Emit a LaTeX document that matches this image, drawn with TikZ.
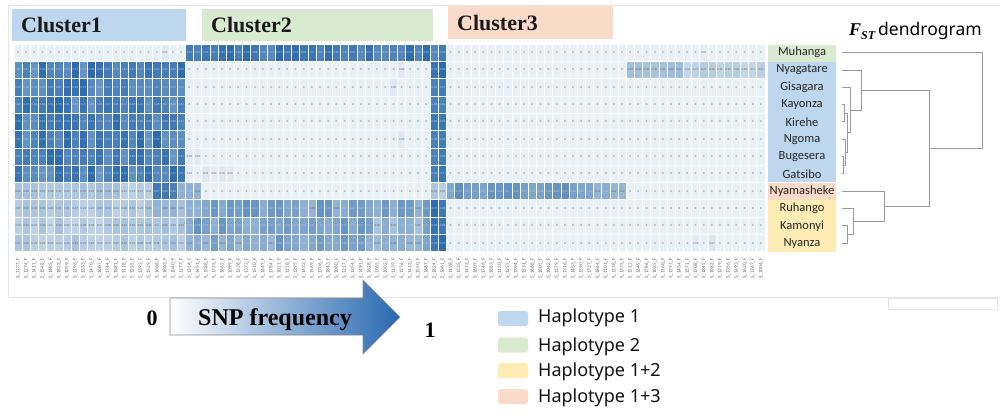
\documentclass[tikz,border=0pt]{standalone}
\usepackage{fontspec}
\setmainfont{Liberation Serif}
\newfontfamily\rowfont{Carlito}
\newfontfamily\keyfont{Noto Sans}
\usetikzlibrary{calc}

% heat map scale
\definecolor{hmlight}{RGB}{232,240,248}
\definecolor{hmdark}{RGB}{40,104,172}
% group colours
\definecolor{grpblue}{RGB}{190,214,238}
\definecolor{grpgreen}{RGB}{216,234,208}
\definecolor{grporange}{RGB}{250,218,200}
\definecolor{grpyellow}{RGB}{255,236,180}
\definecolor{arrowblue}{RGB}{40,104,176}

\tikzset{
  cellnum/.style={font=\rowfont\fontsize{3}{3}\selectfont, inner sep=0pt},
  collab/.style={font=\rowfont\fontsize{5.2}{5.2}\selectfont, text=black!60, rotate=90, anchor=east, inner sep=0pt},
  clusterbox/.style={anchor=north west, inner xsep=9pt, inner ysep=0pt,
    font=\bfseries\fontsize{22}{22}\selectfont, text=black!90, align=left},
  rowlab/.style={font=\rowfont\fontsize{12.5}{12.5}\selectfont, text=black!85,
    minimum width=68pt, minimum height=17.31pt, inner sep=0pt},
  dendline/.style={draw=black!40, line width=0.9pt},
  frameline/.style={draw=black!10, line width=0.6pt},
  keyswatch/.style={minimum width=30pt, minimum height=15pt, rounded corners=2.5pt, inner sep=0pt},
  keytext/.style={font=\keyfont\fontsize{18}{18}\selectfont, anchor=west, inner sep=0pt, text=black!92},
}

% merge two branches of the dendrogram at height #2
\newcommand{\dendjoin}[4]{%
  \path let \p1=($(#3)!.5!(#4)$) in coordinate (#1) at (#2pt,\y1);
  \draw[dendline] (#3) -| (#1) |- (#4);
}

\begin{document}
\begin{tikzpicture}[x=1pt,y=-1pt]
\useasboundingbox (0,0) rectangle (1000,418);
\fill[white] (0,0) rectangle (1000,418);

% faint outer frame
\draw[frameline] (1000,5) -- (8,5) -- (8,297) -- (1000,297);
\draw[frameline] (888,298) rectangle (997,309);

% cluster headers
\node[clusterbox, fill=grpblue, text width=156pt, minimum height=32pt] (cl1) at (12,9) {Cluster1};
\node[clusterbox, fill=grpgreen, text width=213pt, minimum height=32pt] (cl2) at (202,9) {Cluster2};
\node[clusterbox, fill=grporange, text width=147pt, minimum height=33pt] (cl3) at (448,6) {Cluster3};

% heat map: row/first col/last col/level/spread
\pgfmathsetseed{2718}
\foreach \r/\a/\b/\lv/\jt in {
  1/1/18/0/0, 1/19/19/0.05/0, 1/20/21/0/0, 1/22/53/0.86/0.12, 1/54/84/0/0, 1/85/85/0.008/0, 1/86/92/0/0,
  2/1/21/0.82/0.16, 2/22/47/0/0, 2/48/48/0.05/0.01, 2/49/51/0/0, 2/52/53/0.88/0.1, 2/54/75/0/0, 2/76/82/0.36/0.06, 2/83/92/0.24/0.06,
  3/1/21/0.82/0.16, 3/22/46/0/0, 3/47/47/0.04/0.01, 3/48/51/0/0, 3/52/53/0.88/0.1, 3/54/92/0/0,
  4/1/21/0.82/0.16, 4/22/51/0/0, 4/52/53/0.88/0.1, 4/54/92/0/0,
  5/1/21/0.82/0.16, 5/22/51/0/0, 5/52/53/0.88/0.1, 5/54/92/0/0,
  6/1/21/0.82/0.16, 6/22/47/0/0, 6/48/48/0.05/0.01, 6/49/51/0/0, 6/52/53/0.88/0.1, 6/54/92/0/0,
  7/1/21/0.82/0.16, 7/22/23/0.03/0.01, 7/24/51/0/0, 7/52/53/0.88/0.1, 7/54/92/0/0,
  8/1/21/0.82/0.16, 8/22/22/0.02/0, 8/23/23/0/0, 8/24/27/0.04/0.02, 8/28/51/0/0, 8/52/53/0.88/0.1, 8/54/92/0/0,
  9/1/17/0.3/0.07, 9/18/20/0.8/0.08, 9/21/23/0.42/0.05, 9/24/51/0/0, 9/52/53/0.35/0.1, 9/54/71/0.62/0.1, 9/72/75/0.45/0.05, 9/76/92/0/0,
  10/1/17/0.28/0.07, 10/18/21/0.42/0.08, 10/22/51/0.56/0.14, 10/52/53/0.9/0.08, 10/54/92/0/0,
  11/1/17/0.27/0.07, 11/18/21/0.3/0.06, 11/22/44/0.58/0.14, 11/45/50/0.42/0.1, 11/51/51/0.6/0.1, 11/52/53/0.9/0.08, 11/54/92/0/0,
  12/1/17/0.27/0.07, 12/18/21/0.3/0.06, 12/22/44/0.55/0.14, 12/45/50/0.45/0.1, 12/51/51/0.6/0.1, 12/52/53/0.9/0.08,
  12/54/83/0/0, 12/84/84/0.016/0, 12/85/85/0/0, 12/86/86/0.071/0, 12/87/92/0/0}{
  \foreach \c in {\a,...,\b}{
    \pgfmathsetmacro{\v}{max(0,min(1,\lv+\jt*rand))}
    \pgfmathtruncatemacro{\pct}{round(100*\v)}
    \pgfmathsetmacro{\xl}{14+(\c-1)*8.163}
    \pgfmathsetmacro{\yt}{44+(\r-1)*17.31}
    \fill[hmdark!\pct!hmlight, draw=white, line width=0.7pt] (\xl,\yt) rectangle ++(8.163,17.31);
    \ifnum\pct>45 \def\tc{white!65!hmdark}\else\def\tc{black!62}\fi
    \ifdim\lv pt=0pt
      \node[cellnum, text=\tc] at (\xl+4.08,\yt+8.65) {0};
    \else
      \node[cellnum, text=\tc] at (\xl+4.08,\yt+8.65)
        {\pgfmathprintnumber[fixed,precision=2,assume math mode=true]{\v}};
    \fi
  }
}

% SNP column names
\foreach \c in {1,...,92}{
  \pgfmathtruncatemacro{\lab}{1000+mod(\c*137,900)}
  \pgfmathsetmacro{\xm}{14+(\c-0.5)*8.163}
  \node[collab] (col\c) at (\xm,258) {S\_\lab\_F};
}

% population groups
\fill[grpgreen]  (768,45)   rectangle (836,61.6);
\fill[grpblue]   (768,62.3) rectangle (836,182.4);
\fill[grporange] (768,183.2) rectangle (836,199.6);
\fill[grpyellow] (768,200.4) rectangle (836,252);

\node[rowlab] (muhanga)    at (802,52.66)  {Muhanga};
\node[rowlab] (nyagatare)  at (802,69.97)  {Nyagatare};
\node[rowlab] (gisagara)   at (802,87.28)  {Gisagara};
\node[rowlab] (kayonza)    at (802,104.59) {Kayonza};
\node[rowlab] (kirehe)     at (802,121.9)  {Kirehe};
\node[rowlab] (ngoma)      at (802,139.21) {Ngoma};
\node[rowlab] (bugesera)   at (802,156.52) {Bugesera};
\node[rowlab] (gatsibo)    at (802,173.83) {Gatsibo};
\node[rowlab] (nyamasheke) at (802,191.14) {Nyamasheke};
\node[rowlab] (ruhango)    at (802,208.45) {Ruhango};
\node[rowlab] (kamonyi)    at (802,225.76) {Kamonyi};
\node[rowlab] (nyanza)     at (802,243.07) {Nyanza};

% dendrogram leaves
\foreach \n in {muhanga,nyagatare,gisagara,kayonza,kirehe,ngoma,bugesera,gatsibo,nyamasheke,ruhango,kamonyi,nyanza}{
  \coordinate (l-\n) at ([xshift=6pt]\n.east);
}
\dendjoin{jA}{843.5}{l-bugesera}{l-gatsibo}
\dendjoin{jB}{845.5}{l-ngoma}{jA}
\dendjoin{jC}{844}{l-kayonza}{l-kirehe}
\dendjoin{jD}{847.5}{jC}{jB}
\dendjoin{jE}{850}{l-gisagara}{jD}
\dendjoin{jF}{861}{l-nyagatare}{jE}
\dendjoin{jJ}{847}{l-kamonyi}{l-nyanza}
\dendjoin{jI}{853}{l-ruhango}{jJ}
\dendjoin{jH}{884}{l-nyamasheke}{jI}
\dendjoin{jG}{929}{jF}{jH}
\dendjoin{jR}{982}{l-muhanga}{jG}

\node[anchor=base west, inner sep=0pt] (fst) at (849,35)
  {\bfseries\itshape\fontsize{18}{18}\selectfont F\raisebox{-0.25em}{\fontsize{12}{12}\selectfont ST}\hspace{3pt}{\upshape\mdseries\keyfont\fontsize{17.5}{17.5}\selectfont dendrogram}};

% frequency scale arrow
\shade[left color=white, right color=arrowblue, draw=black!45, line width=0.6pt]
  (170,298) -- (363,298) -- (363,280) -- (400,317) -- (363,354) -- (363,335) -- (170,335) -- cycle;
\node[anchor=base, inner sep=0pt, font=\bfseries\fontsize{24}{24}\selectfont] (snp) at (275,325) {SNP frequency};
\node[anchor=base, inner sep=0pt, font=\bfseries\fontsize{22}{22}\selectfont] (lo) at (152,325) {0};
\node[anchor=base, inner sep=0pt, font=\bfseries\fontsize{22}{22}\selectfont] (hi) at (430,337) {1};

% legend
\node[keyswatch, fill=grpblue]   (k1) at (513,318.5) {};
\node[keyswatch, fill=grpgreen]  (k2) at (513,345)   {};
\node[keyswatch, fill=grpyellow] (k3) at (513,370.5) {};
\node[keyswatch, fill=grporange] (k4) at (513,396.5) {};
\node[keytext] (t1) at (538,318) {Haplotype 1};
\node[keytext] (t2) at (538,347) {Haplotype 2};
\node[keytext] (t3) at (538,372) {Haplotype 1+2};
\node[keytext] (t4) at (538,398) {Haplotype 1+3};
\end{tikzpicture}
\end{document}
